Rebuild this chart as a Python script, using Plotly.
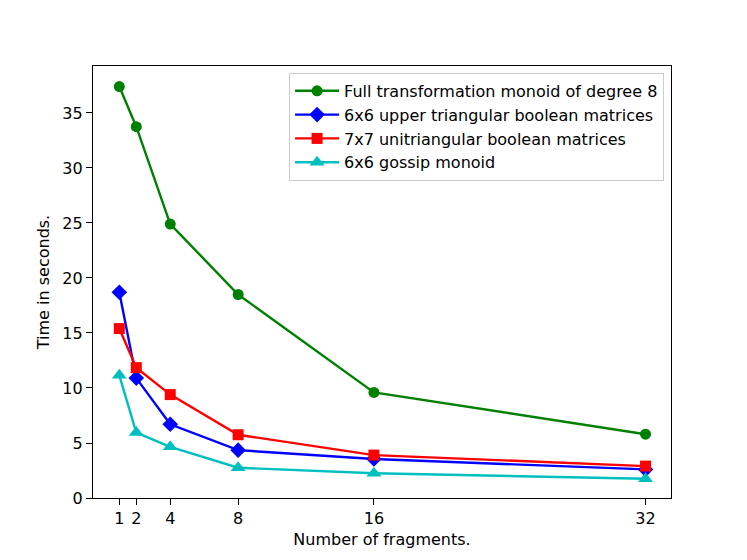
import plotly.graph_objects as go

fragments = [1, 2, 4, 8, 16, 32]
full_transformation = [37.4, 33.75, 24.9, 18.5, 9.6, 5.8]
upper_triangular = [18.7, 10.9, 6.7, 4.35, 3.55, 2.6]
unitriangular = [15.4, 11.85, 9.4, 5.75, 3.9, 2.9]
gossip = [11.15, 5.95, 4.65, 2.75, 2.25, 1.75]

names = ["Full transformation monoid of degree 8",
         "6x6 upper triangular boolean matrices",
         "7x7 unitriangular boolean matrices",
         "6x6 gossip monoid"]
series = [full_transformation, upper_triangular, unitriangular, gossip]
colors = ["#008000", "#0000ff", "#ff0000", "#00bfbf"]
symbols = ["circle", "diamond", "square", "triangle-up"]
sizes = [11, 12, 11, 13]

fig = go.Figure()
for name, ys, c, s, sz in zip(names, series, colors, symbols, sizes):
    fig.add_trace(go.Scatter(x=fragments, y=ys, name=name, mode="lines+markers",
                             line=dict(color=c, width=2.4),
                             marker=dict(color=c, symbol=s, size=sz)))

axis_common = dict(showline=True, linecolor="black", linewidth=1.3, mirror=True,
                   ticks="outside", ticklen=6, tickwidth=1.3, tickcolor="black", showgrid=False,
                   zeroline=False, tickfont=dict(size=16, color="black"),
                   title_font=dict(size=16, color="black"), automargin=False)

fig.update_layout(
    width=747, height=560,
    paper_bgcolor="white", plot_bgcolor="white",
    font=dict(family="DejaVu Sans", size=16, color="black"),
    margin=dict(l=85, r=84, t=58, b=70),
    showlegend=True,
    legend=dict(x=0.988, y=0.984, xanchor="right", yanchor="top",
                bgcolor="rgba(255,255,255,0.8)", bordercolor="#cccccc", borderwidth=1,
                font=dict(size=16), tracegroupgap=0, itemwidth=44),
)
fig.update_xaxes(**axis_common, range=[-0.55, 33.5], tickvals=fragments,
                 ticktext=[str(f) for f in fragments],
                 title_text="Number of fragments.", title_standoff=6)
fig.update_yaxes(**axis_common, range=[0, 39.27], tickvals=[0, 5, 10, 15, 20, 25, 30, 35],
                 title_text="Time in seconds.", title_standoff=8)

fig.write_html("out.html")
